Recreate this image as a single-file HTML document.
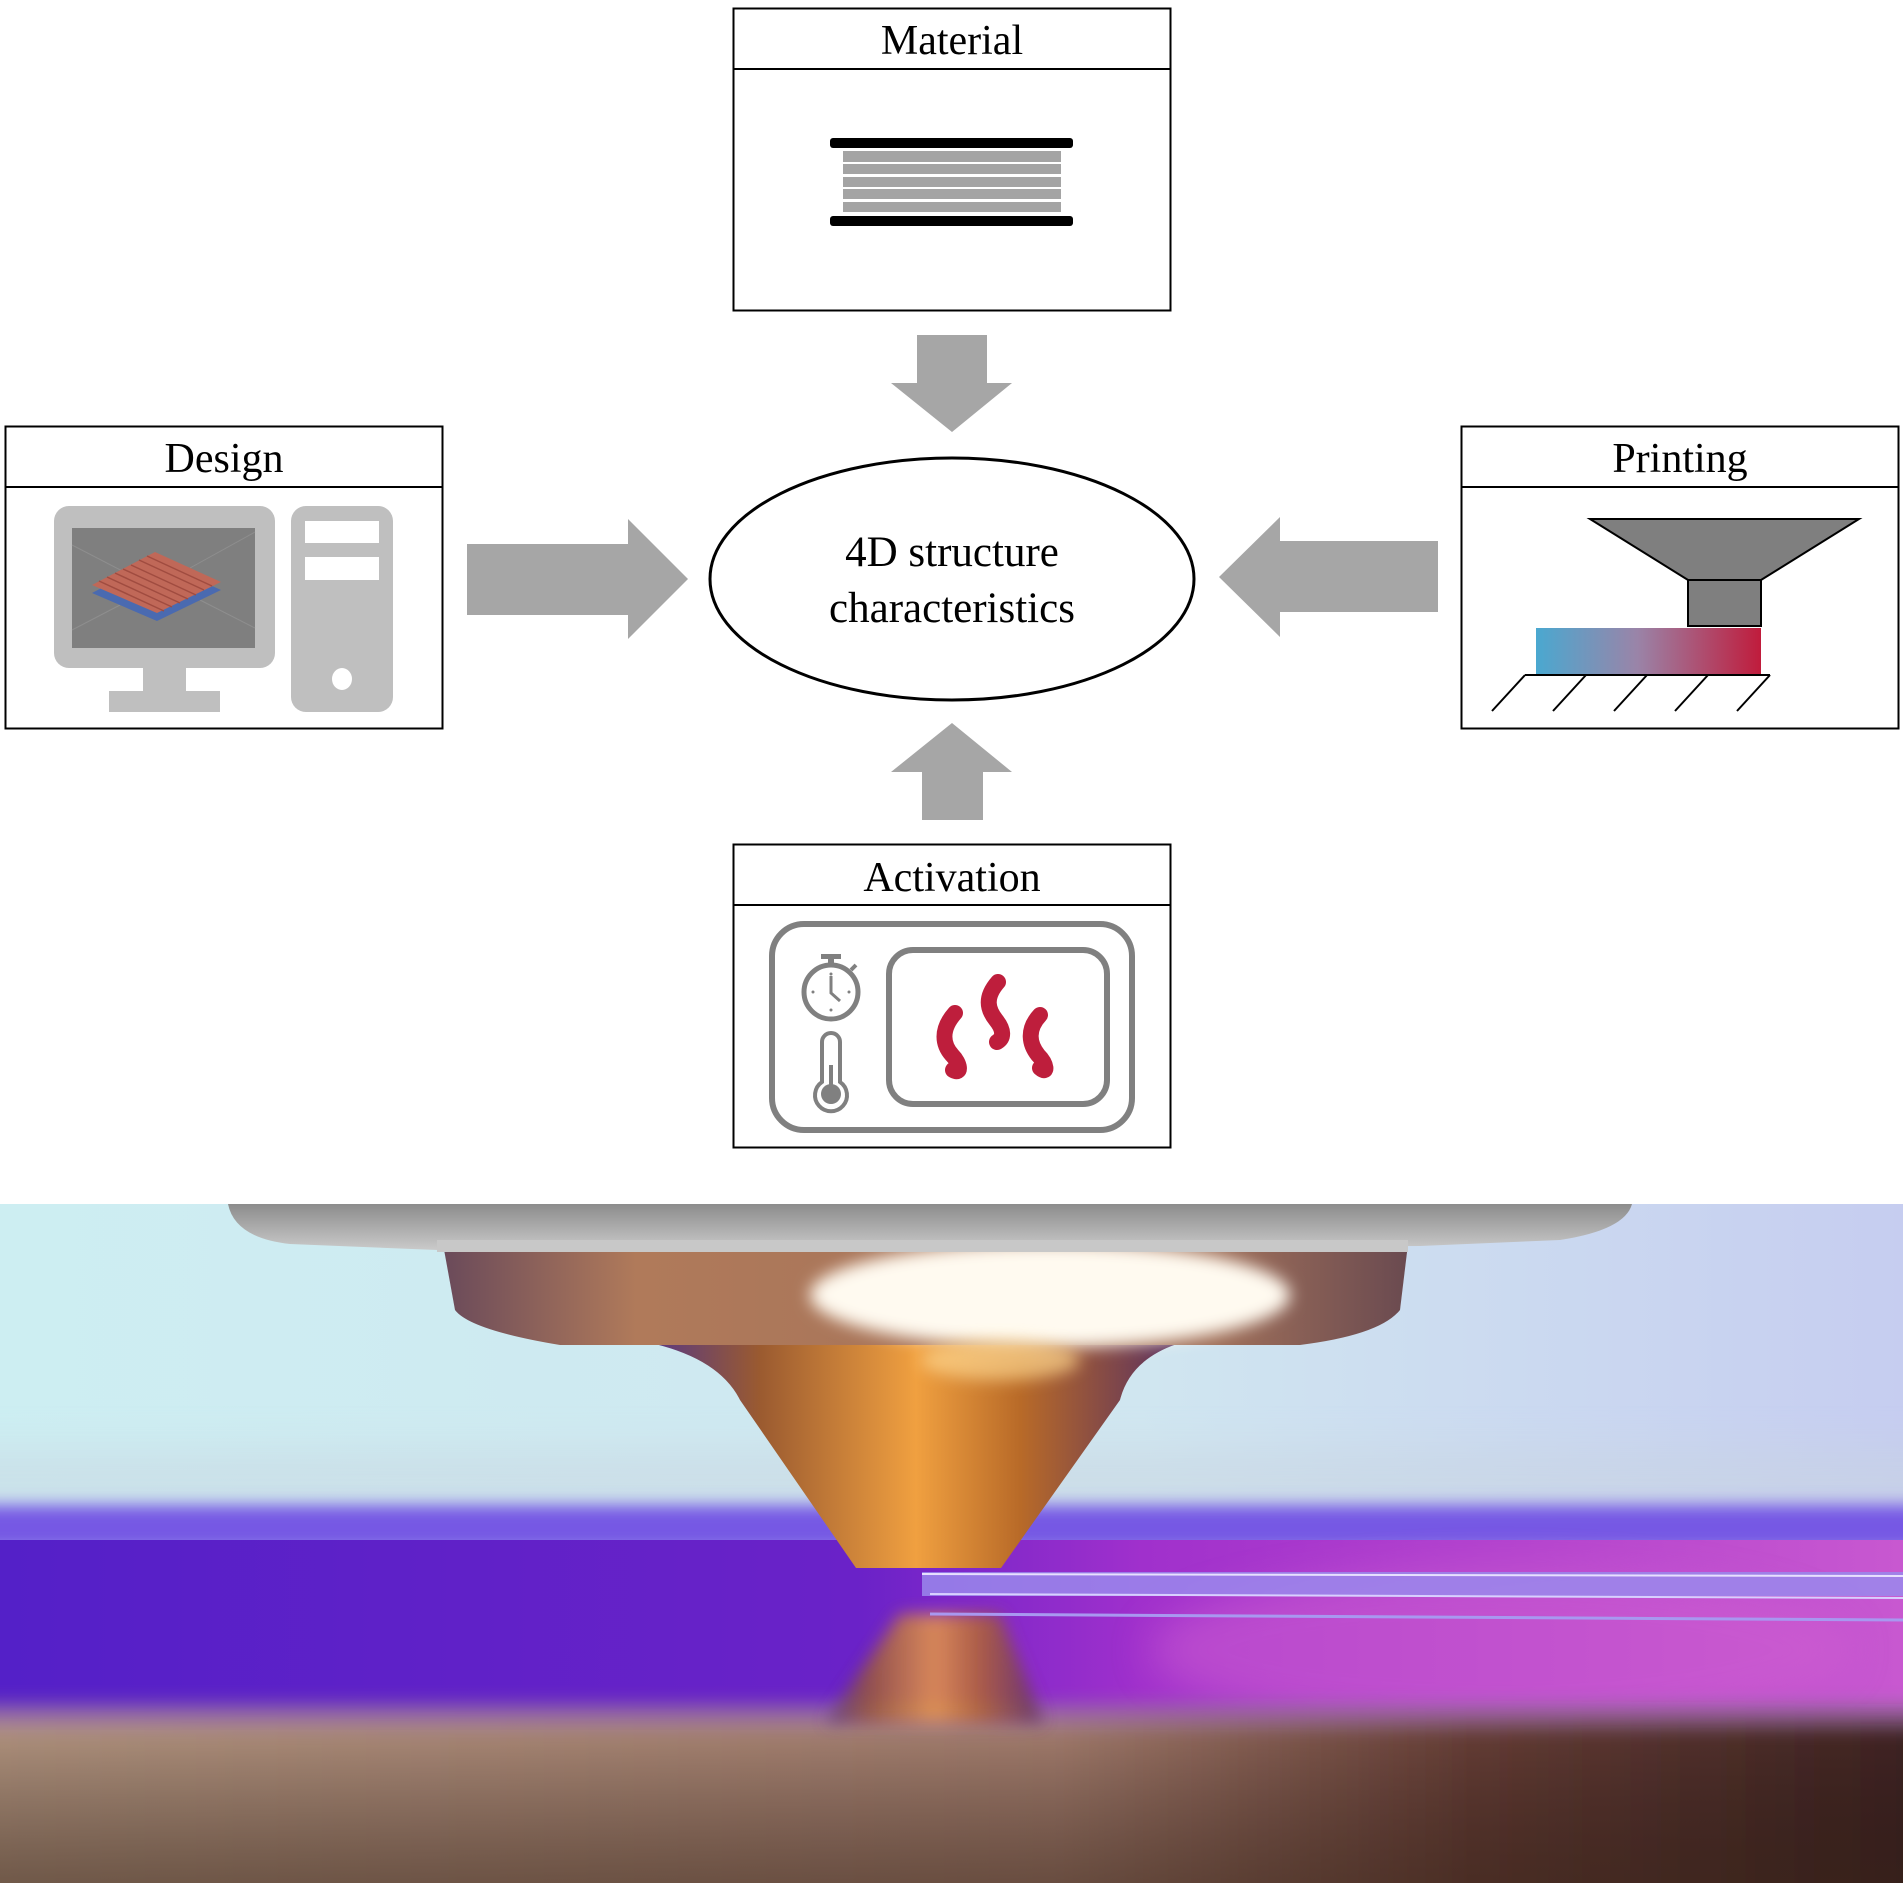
<!DOCTYPE html>
<html><head><meta charset="utf-8"><style>
html,body{margin:0;padding:0;background:#fff;}
body{width:1903px;height:1883px;overflow:hidden;position:relative;}
svg{position:absolute;left:0;top:0;}
text{font-family:"Liberation Serif",serif;fill:#000;}
</style></head><body>
<svg width="1903" height="1883" viewBox="0 0 1903 1883" xmlns="http://www.w3.org/2000/svg">
<defs>
<linearGradient id="pg" x1="0" x2="1"><stop offset="0" stop-color="#4aa8d0"/><stop offset="0.45" stop-color="#9a84a8"/><stop offset="1" stop-color="#c01c3c"/></linearGradient>
<linearGradient id="sky" x1="0" x2="1"><stop offset="0" stop-color="#cdeef2"/><stop offset="0.6" stop-color="#d0e6f0"/><stop offset="1" stop-color="#c6cdf0"/></linearGradient>
<linearGradient id="purp" x1="0" x2="1"><stop offset="0" stop-color="#5420c8"/><stop offset="0.45" stop-color="#6a22c8"/><stop offset="0.6" stop-color="#a030cc"/><stop offset="1" stop-color="#c858d0"/></linearGradient>
<linearGradient id="bot" x1="0" x2="1"><stop offset="0" stop-color="#b89a84"/><stop offset="0.55" stop-color="#a88070"/><stop offset="0.75" stop-color="#6a4038"/><stop offset="1" stop-color="#3a2020"/></linearGradient>
<linearGradient id="botv" x1="0" y1="0" x2="0" y2="1"><stop offset="0" stop-color="#000" stop-opacity="0"/><stop offset="1" stop-color="#2a1a10" stop-opacity="0.5"/></linearGradient>
<linearGradient id="cone" x1="0" x2="1"><stop offset="0" stop-color="#5a3a80"/><stop offset="0.2" stop-color="#9a5a30"/><stop offset="0.5" stop-color="#f0a040"/><stop offset="0.7" stop-color="#b86a28"/><stop offset="1" stop-color="#5a3060"/></linearGradient>
<linearGradient id="brass" x1="0" x2="1"><stop offset="0" stop-color="#6a4a5a"/><stop offset="0.2" stop-color="#b07a5a"/><stop offset="0.8" stop-color="#a0705a"/><stop offset="1" stop-color="#6a4a50"/></linearGradient>
<linearGradient id="hold" x1="0" y1="0" x2="0" y2="1"><stop offset="0" stop-color="#8c8c8c"/><stop offset="1" stop-color="#cacaca"/></linearGradient>
<filter id="b8" x="-10%" y="-50%" width="120%" height="200%"><feGaussianBlur stdDeviation="8"/></filter>
<filter id="b20" x="-10%" y="-100%" width="120%" height="300%"><feGaussianBlur stdDeviation="20"/></filter>
</defs>

<!-- Material -->
<rect x="733.5" y="8.5" width="437" height="302" fill="#fff" stroke="#000" stroke-width="2"/>
<line x1="733" y1="69" x2="1171" y2="69" stroke="#000" stroke-width="2"/>
<text x="952" y="54" font-size="42" text-anchor="middle">Material</text>
<rect x="830" y="138" width="243" height="10" rx="3" fill="#000"/>
<rect x="843" y="151" width="218" height="11" fill="#a4a4a4"/>
<rect x="843" y="164" width="218" height="10" fill="#a4a4a4"/>
<rect x="843" y="177" width="218" height="10" fill="#a4a4a4"/>
<rect x="843" y="189" width="218" height="10" fill="#a4a4a4"/>
<rect x="843" y="202" width="218" height="10" fill="#a4a4a4"/>
<rect x="830" y="216" width="243" height="10" rx="3" fill="#000"/>
<polygon points="917,335 987,335 987,383 1012,383 952,432 891,383 917,383" fill="#a6a6a6"/>

<!-- Design -->
<rect x="5.5" y="426.5" width="437" height="302" fill="#fff" stroke="#000" stroke-width="2"/>
<line x1="5" y1="487" x2="443" y2="487" stroke="#000" stroke-width="2"/>
<text x="224" y="472" font-size="42" text-anchor="middle">Design</text>
<rect x="54" y="506" width="221" height="162" rx="15" fill="#bfbfbf"/>
<rect x="72" y="528" width="183" height="120" fill="#7f7f7f"/>
<g stroke="#8e8e8e" stroke-width="1"><line x1="72" y1="545" x2="130" y2="575"/><line x1="255" y1="532" x2="190" y2="568"/><line x1="72" y1="630" x2="120" y2="605"/><line x1="255" y1="628" x2="200" y2="600"/></g>
<polygon points="92,593 155,560 221,590 157,621" fill="#4a6ab0"/>
<polygon points="92,585 155,552 221,582 157,613" fill="#c06858"/>
<g stroke="#a04c40" stroke-width="1.5"><line x1="99" y1="581" x2="164" y2="611"/><line x1="107" y1="577" x2="172" y2="607"/><line x1="115" y1="573" x2="180" y2="603"/><line x1="123" y1="569" x2="188" y2="599"/><line x1="131" y1="565" x2="196" y2="595"/><line x1="139" y1="560" x2="204" y2="590"/><line x1="147" y1="556" x2="212" y2="586"/></g>
<rect x="143" y="667" width="43" height="25" fill="#bfbfbf"/>
<rect x="109" y="691" width="111" height="21" fill="#bfbfbf"/>
<rect x="291" y="506" width="102" height="206" rx="15" fill="#bfbfbf"/>
<rect x="305" y="521" width="74" height="22" fill="#fff"/>
<rect x="305" y="557" width="74" height="23" fill="#fff"/>
<ellipse cx="342" cy="679" rx="10" ry="11" fill="#fff"/>
<polygon points="467,544 628,544 628,519 688,579 628,639 628,615 467,615" fill="#a6a6a6"/>

<!-- Printing -->
<rect x="1461.5" y="426.5" width="437" height="302" fill="#fff" stroke="#000" stroke-width="2"/>
<line x1="1461" y1="487" x2="1899" y2="487" stroke="#000" stroke-width="2"/>
<text x="1680" y="472" font-size="42" text-anchor="middle">Printing</text>
<polygon points="1590,519 1859,519 1761,580 1688,580" fill="#7f7f7f" stroke="#000" stroke-width="2"/>
<rect x="1688" y="580" width="73" height="46" fill="#7f7f7f" stroke="#000" stroke-width="2"/>
<rect x="1536" y="628" width="225" height="47" fill="url(#pg)"/>
<g stroke="#000" stroke-width="2"><line x1="1525" y1="675" x2="1770" y2="675"/><line x1="1525" y1="675" x2="1492" y2="711"/><line x1="1586" y1="675" x2="1553" y2="711"/><line x1="1647" y1="675" x2="1614" y2="711"/><line x1="1708" y1="675" x2="1675" y2="711"/><line x1="1770" y1="675" x2="1737" y2="711"/></g>
<polygon points="1219,577 1280,517 1280,541 1438,541 1438,612 1280,612 1280,637" fill="#a6a6a6"/>

<!-- Center ellipse -->
<ellipse cx="952" cy="579" rx="242" ry="121" fill="#fff" stroke="#000" stroke-width="3"/>
<text x="952" y="566" font-size="43" text-anchor="middle">4D structure</text>
<text x="952" y="622" font-size="43" text-anchor="middle">characteristics</text>

<!-- Activation -->
<polygon points="952,723 1012,772 983,772 983,820 922,820 922,772 891,772" fill="#a6a6a6"/>
<rect x="733.5" y="844.5" width="437" height="303" fill="#fff" stroke="#000" stroke-width="2"/>
<line x1="733" y1="905" x2="1171" y2="905" stroke="#000" stroke-width="2"/>
<text x="952" y="891" font-size="42" text-anchor="middle">Activation</text>
<rect x="772" y="924" width="360" height="206" rx="32" fill="none" stroke="#808080" stroke-width="6"/>
<rect x="889" y="950" width="218" height="154" rx="24" fill="none" stroke="#808080" stroke-width="6"/>
<circle cx="831" cy="992" r="27" fill="none" stroke="#808080" stroke-width="5"/>
<rect x="821" y="954" width="20" height="5" fill="#808080"/><rect x="828" y="958" width="6" height="8" fill="#808080"/>
<line x1="851" y1="970" x2="856" y2="965" stroke="#808080" stroke-width="4"/>
<polyline points="831,976 831,993 840,1001" fill="none" stroke="#808080" stroke-width="3"/>
<g fill="#808080"><circle cx="831" cy="974" r="1.5"/><circle cx="813" cy="992" r="1.5"/><circle cx="849" cy="992" r="1.5"/><circle cx="831" cy="1010" r="1.5"/></g>
<path d="M822,1082 V1042 a9,9 0 0 1 18,0 V1082 a16,16 0 1 1 -18,0 Z" fill="none" stroke="#808080" stroke-width="4"/>
<line x1="831" y1="1065" x2="831" y2="1090" stroke="#808080" stroke-width="4"/>
<circle cx="831" cy="1094" r="10" fill="#808080"/>
<g fill="none" stroke="#be1e3c" stroke-width="16" stroke-linecap="round">
<path d="M955,1013 C940,1030 943,1045 952,1055 C960,1063 962,1075 953,1070"/>
<path d="M998,982 C984,998 988,1010 996,1020 C1004,1030 1004,1038 997,1042"/>
<path d="M1040,1015 C1026,1030 1030,1045 1038,1055 C1047,1064 1048,1075 1040,1068"/>
</g>

<!-- Photo -->
<svg x="0" y="1204" width="1903" height="679" viewBox="0 1204 1903 679">
<rect x="0" y="1204" width="1903" height="679" fill="url(#sky)"/>
<rect x="-100" y="1450" width="2100" height="60" fill="#c8d4e0" opacity="0.5" filter="url(#b20)"/>
<rect x="-100" y="1505" width="2100" height="45" fill="#7658e4" filter="url(#b8)"/>
<rect x="0" y="1540" width="1903" height="190" fill="url(#purp)"/>
<ellipse cx="1500" cy="1650" rx="350" ry="80" fill="#d060d0" opacity="0.5" filter="url(#b20)"/>
<rect x="-100" y="1714" width="2100" height="260" fill="url(#bot)" filter="url(#b8)"/>
<rect x="0" y="1714" width="1903" height="169" fill="url(#botv)"/>
<rect x="-100" y="1700" width="2100" height="30" fill="#9a70a8" opacity="0.5" filter="url(#b8)"/>
<!-- reflection -->
<polygon points="900,1614 1000,1614 1044,1723 825,1723" fill="url(#cone)" opacity="0.8" filter="url(#b8)"/>
<!-- filament -->
<rect x="922" y="1572" width="981" height="24" fill="#9a88ec" opacity="0.85"/>
<line x1="922" y1="1574" x2="1903" y2="1576" stroke="#e8e0ff" stroke-width="2"/>
<line x1="930" y1="1594" x2="1903" y2="1598" stroke="#d8d0ff" stroke-width="2"/>
<line x1="930" y1="1614" x2="1903" y2="1620" stroke="#a898f0" stroke-width="3"/>
<!-- cone -->
<path d="M655,1344 L1177,1344 Q1130,1360 1120,1400 L1001,1568 L856,1568 L740,1400 Q720,1360 655,1344 Z" fill="url(#cone)"/>
<!-- brass block -->
<path d="M443,1244 L1408,1244 L1400,1310 Q1380,1335 1300,1345 L560,1345 Q470,1330 455,1310 Z" fill="url(#brass)"/>
<ellipse cx="1050" cy="1295" rx="240" ry="52" fill="#fffaf0" filter="url(#b8)"/>
<ellipse cx="1000" cy="1360" rx="80" ry="20" fill="#ffd890" opacity="0.7" filter="url(#b8)"/>
<!-- holder -->
<path d="M228,1204 L1632,1204 Q1625,1230 1560,1240 L1420,1246 L437,1250 L290,1244 Q235,1238 228,1204 Z" fill="url(#hold)"/>
<rect x="437" y="1240" width="971" height="12" fill="#c8c8c8"/>
</svg>
</svg>
</body></html>
